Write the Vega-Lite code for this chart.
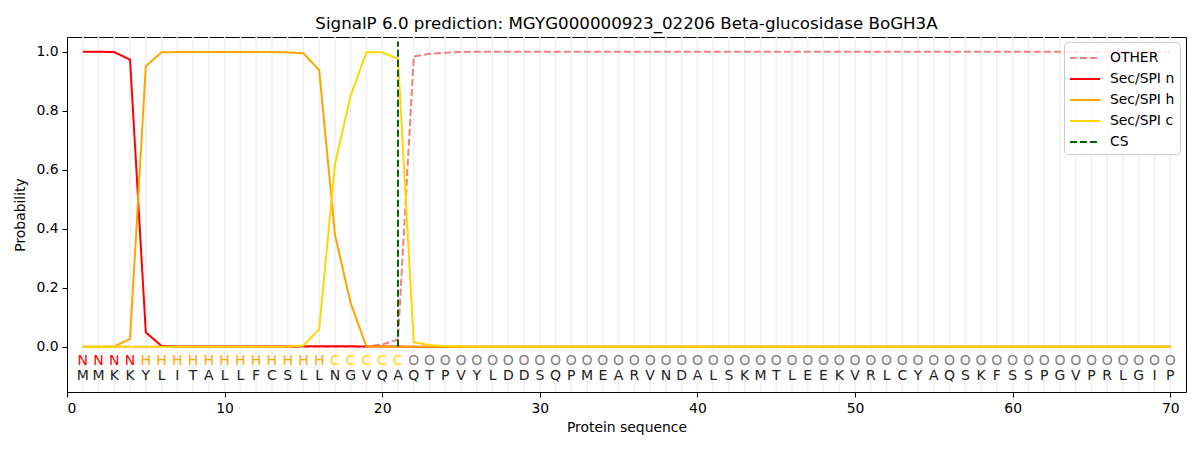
{
  "$schema": "https://vega.github.io/schema/vega-lite/v6.json",
  "autosize": {"type": "none"},
  "padding": {"left": 67, "top": 37, "right": 14, "bottom": 58},
  "width": 1119,
  "height": 355,
  "background": "white",
  "config": {
    "font": "DejaVu Sans",
    "view": {"stroke": "black", "strokeWidth": 1},
    "axis": {
      "labelFont": "DejaVu Sans", "titleFont": "DejaVu Sans",
      "labelFontSize": 13.9, "titleFontSize": 13.9,
      "labelColor": "black", "titleColor": "black",
      "titleFontWeight": "normal",
      "domain": false, "tickColor": "black", "tickSize": 5, "tickWidth": 1,
      "grid": false, "labelPadding": 4
    }
  },
  "title": {
    "text": "SignalP 6.0 prediction: MGYG000000923_02206 Beta-glucosidase BoGH3A",
    "fontSize": 16.7, "fontWeight": "normal", "font": "DejaVu Sans", "color": "black",
    "anchor": "middle", "offset": 4
  },
  "datasets": {
    "seq": [
      {"pos": 1, "aa": "M", "region": "N", "OTHER": 0, "Sec/SPI n": 1, "Sec/SPI h": 0, "Sec/SPI c": 0},
      {"pos": 2, "aa": "M", "region": "N", "OTHER": 0, "Sec/SPI n": 1, "Sec/SPI h": 0, "Sec/SPI c": 0},
      {"pos": 3, "aa": "K", "region": "N", "OTHER": 0, "Sec/SPI n": 0.999, "Sec/SPI h": 0.001, "Sec/SPI c": 0},
      {"pos": 4, "aa": "K", "region": "N", "OTHER": 0, "Sec/SPI n": 0.973, "Sec/SPI h": 0.027, "Sec/SPI c": 0},
      {"pos": 5, "aa": "Y", "region": "H", "OTHER": 0, "Sec/SPI n": 0.049, "Sec/SPI h": 0.951, "Sec/SPI c": 0},
      {"pos": 6, "aa": "L", "region": "H", "OTHER": 0, "Sec/SPI n": 0.003, "Sec/SPI h": 0.998, "Sec/SPI c": 0},
      {"pos": 7, "aa": "I", "region": "H", "OTHER": 0, "Sec/SPI n": 0.001, "Sec/SPI h": 0.999, "Sec/SPI c": 0},
      {"pos": 8, "aa": "T", "region": "H", "OTHER": 0, "Sec/SPI n": 0.001, "Sec/SPI h": 0.999, "Sec/SPI c": 0},
      {"pos": 9, "aa": "A", "region": "H", "OTHER": 0, "Sec/SPI n": 0.001, "Sec/SPI h": 0.999, "Sec/SPI c": 0},
      {"pos": 10, "aa": "L", "region": "H", "OTHER": 0, "Sec/SPI n": 0.001, "Sec/SPI h": 0.999, "Sec/SPI c": 0},
      {"pos": 11, "aa": "L", "region": "H", "OTHER": 0, "Sec/SPI n": 0.001, "Sec/SPI h": 0.999, "Sec/SPI c": 0},
      {"pos": 12, "aa": "F", "region": "H", "OTHER": 0, "Sec/SPI n": 0.001, "Sec/SPI h": 0.999, "Sec/SPI c": 0},
      {"pos": 13, "aa": "C", "region": "H", "OTHER": 0, "Sec/SPI n": 0.001, "Sec/SPI h": 0.999, "Sec/SPI c": 0},
      {"pos": 14, "aa": "S", "region": "H", "OTHER": 0, "Sec/SPI n": 0.001, "Sec/SPI h": 0.998, "Sec/SPI c": 0.001},
      {"pos": 15, "aa": "L", "region": "H", "OTHER": 0, "Sec/SPI n": 0.002, "Sec/SPI h": 0.995, "Sec/SPI c": 0.004},
      {"pos": 16, "aa": "L", "region": "H", "OTHER": 0, "Sec/SPI n": 0.002, "Sec/SPI h": 0.938, "Sec/SPI c": 0.06},
      {"pos": 17, "aa": "N", "region": "C", "OTHER": 0, "Sec/SPI n": 0.002, "Sec/SPI h": 0.38, "Sec/SPI c": 0.618},
      {"pos": 18, "aa": "G", "region": "C", "OTHER": 0, "Sec/SPI n": 0.002, "Sec/SPI h": 0.148, "Sec/SPI c": 0.852},
      {"pos": 19, "aa": "V", "region": "C", "OTHER": 0.001, "Sec/SPI n": 0.001, "Sec/SPI h": 0.001, "Sec/SPI c": 0.998},
      {"pos": 20, "aa": "Q", "region": "C", "OTHER": 0.008, "Sec/SPI n": 0.001, "Sec/SPI h": 0.001, "Sec/SPI c": 0.998},
      {"pos": 21, "aa": "A", "region": "C", "OTHER": 0.025, "Sec/SPI n": 0.001, "Sec/SPI h": 0, "Sec/SPI c": 0.976},
      {"pos": 22, "aa": "Q", "region": "O", "OTHER": 0.984, "Sec/SPI n": 0, "Sec/SPI h": 0, "Sec/SPI c": 0.016},
      {"pos": 23, "aa": "T", "region": "O", "OTHER": 0.993, "Sec/SPI n": 0, "Sec/SPI h": 0, "Sec/SPI c": 0.006},
      {"pos": 24, "aa": "P", "region": "O", "OTHER": 0.997, "Sec/SPI n": 0, "Sec/SPI h": 0, "Sec/SPI c": 0.002},
      {"pos": 25, "aa": "V", "region": "O", "OTHER": 0.999, "Sec/SPI n": 0, "Sec/SPI h": 0, "Sec/SPI c": 0.001},
      {"pos": 26, "aa": "Y", "region": "O", "OTHER": 1, "Sec/SPI n": 0, "Sec/SPI h": 0, "Sec/SPI c": 0},
      {"pos": 27, "aa": "L", "region": "O", "OTHER": 1, "Sec/SPI n": 0, "Sec/SPI h": 0, "Sec/SPI c": 0},
      {"pos": 28, "aa": "D", "region": "O", "OTHER": 1, "Sec/SPI n": 0, "Sec/SPI h": 0, "Sec/SPI c": 0},
      {"pos": 29, "aa": "D", "region": "O", "OTHER": 1, "Sec/SPI n": 0, "Sec/SPI h": 0, "Sec/SPI c": 0},
      {"pos": 30, "aa": "S", "region": "O", "OTHER": 1, "Sec/SPI n": 0, "Sec/SPI h": 0, "Sec/SPI c": 0},
      {"pos": 31, "aa": "Q", "region": "O", "OTHER": 1, "Sec/SPI n": 0, "Sec/SPI h": 0, "Sec/SPI c": 0},
      {"pos": 32, "aa": "P", "region": "O", "OTHER": 1, "Sec/SPI n": 0, "Sec/SPI h": 0, "Sec/SPI c": 0},
      {"pos": 33, "aa": "M", "region": "O", "OTHER": 1, "Sec/SPI n": 0, "Sec/SPI h": 0, "Sec/SPI c": 0},
      {"pos": 34, "aa": "E", "region": "O", "OTHER": 1, "Sec/SPI n": 0, "Sec/SPI h": 0, "Sec/SPI c": 0},
      {"pos": 35, "aa": "A", "region": "O", "OTHER": 1, "Sec/SPI n": 0, "Sec/SPI h": 0, "Sec/SPI c": 0},
      {"pos": 36, "aa": "R", "region": "O", "OTHER": 1, "Sec/SPI n": 0, "Sec/SPI h": 0, "Sec/SPI c": 0},
      {"pos": 37, "aa": "V", "region": "O", "OTHER": 1, "Sec/SPI n": 0, "Sec/SPI h": 0, "Sec/SPI c": 0},
      {"pos": 38, "aa": "N", "region": "O", "OTHER": 1, "Sec/SPI n": 0, "Sec/SPI h": 0, "Sec/SPI c": 0},
      {"pos": 39, "aa": "D", "region": "O", "OTHER": 1, "Sec/SPI n": 0, "Sec/SPI h": 0, "Sec/SPI c": 0},
      {"pos": 40, "aa": "A", "region": "O", "OTHER": 1, "Sec/SPI n": 0, "Sec/SPI h": 0, "Sec/SPI c": 0},
      {"pos": 41, "aa": "L", "region": "O", "OTHER": 1, "Sec/SPI n": 0, "Sec/SPI h": 0, "Sec/SPI c": 0},
      {"pos": 42, "aa": "S", "region": "O", "OTHER": 1, "Sec/SPI n": 0, "Sec/SPI h": 0, "Sec/SPI c": 0},
      {"pos": 43, "aa": "K", "region": "O", "OTHER": 1, "Sec/SPI n": 0, "Sec/SPI h": 0, "Sec/SPI c": 0},
      {"pos": 44, "aa": "M", "region": "O", "OTHER": 1, "Sec/SPI n": 0, "Sec/SPI h": 0, "Sec/SPI c": 0},
      {"pos": 45, "aa": "T", "region": "O", "OTHER": 1, "Sec/SPI n": 0, "Sec/SPI h": 0, "Sec/SPI c": 0},
      {"pos": 46, "aa": "L", "region": "O", "OTHER": 1, "Sec/SPI n": 0, "Sec/SPI h": 0, "Sec/SPI c": 0},
      {"pos": 47, "aa": "E", "region": "O", "OTHER": 1, "Sec/SPI n": 0, "Sec/SPI h": 0, "Sec/SPI c": 0},
      {"pos": 48, "aa": "E", "region": "O", "OTHER": 1, "Sec/SPI n": 0, "Sec/SPI h": 0, "Sec/SPI c": 0},
      {"pos": 49, "aa": "K", "region": "O", "OTHER": 1, "Sec/SPI n": 0, "Sec/SPI h": 0, "Sec/SPI c": 0},
      {"pos": 50, "aa": "V", "region": "O", "OTHER": 1, "Sec/SPI n": 0, "Sec/SPI h": 0, "Sec/SPI c": 0},
      {"pos": 51, "aa": "R", "region": "O", "OTHER": 1, "Sec/SPI n": 0, "Sec/SPI h": 0, "Sec/SPI c": 0},
      {"pos": 52, "aa": "L", "region": "O", "OTHER": 1, "Sec/SPI n": 0, "Sec/SPI h": 0, "Sec/SPI c": 0},
      {"pos": 53, "aa": "C", "region": "O", "OTHER": 1, "Sec/SPI n": 0, "Sec/SPI h": 0, "Sec/SPI c": 0},
      {"pos": 54, "aa": "Y", "region": "O", "OTHER": 1, "Sec/SPI n": 0, "Sec/SPI h": 0, "Sec/SPI c": 0},
      {"pos": 55, "aa": "A", "region": "O", "OTHER": 1, "Sec/SPI n": 0, "Sec/SPI h": 0, "Sec/SPI c": 0},
      {"pos": 56, "aa": "Q", "region": "O", "OTHER": 1, "Sec/SPI n": 0, "Sec/SPI h": 0, "Sec/SPI c": 0},
      {"pos": 57, "aa": "S", "region": "O", "OTHER": 1, "Sec/SPI n": 0, "Sec/SPI h": 0, "Sec/SPI c": 0},
      {"pos": 58, "aa": "K", "region": "O", "OTHER": 1, "Sec/SPI n": 0, "Sec/SPI h": 0, "Sec/SPI c": 0},
      {"pos": 59, "aa": "F", "region": "O", "OTHER": 1, "Sec/SPI n": 0, "Sec/SPI h": 0, "Sec/SPI c": 0},
      {"pos": 60, "aa": "S", "region": "O", "OTHER": 1, "Sec/SPI n": 0, "Sec/SPI h": 0, "Sec/SPI c": 0},
      {"pos": 61, "aa": "S", "region": "O", "OTHER": 1, "Sec/SPI n": 0, "Sec/SPI h": 0, "Sec/SPI c": 0},
      {"pos": 62, "aa": "P", "region": "O", "OTHER": 1, "Sec/SPI n": 0, "Sec/SPI h": 0, "Sec/SPI c": 0},
      {"pos": 63, "aa": "G", "region": "O", "OTHER": 1, "Sec/SPI n": 0, "Sec/SPI h": 0, "Sec/SPI c": 0},
      {"pos": 64, "aa": "V", "region": "O", "OTHER": 1, "Sec/SPI n": 0, "Sec/SPI h": 0, "Sec/SPI c": 0},
      {"pos": 65, "aa": "P", "region": "O", "OTHER": 1, "Sec/SPI n": 0, "Sec/SPI h": 0, "Sec/SPI c": 0},
      {"pos": 66, "aa": "R", "region": "O", "OTHER": 1, "Sec/SPI n": 0, "Sec/SPI h": 0, "Sec/SPI c": 0},
      {"pos": 67, "aa": "L", "region": "O", "OTHER": 1, "Sec/SPI n": 0, "Sec/SPI h": 0, "Sec/SPI c": 0},
      {"pos": 68, "aa": "G", "region": "O", "OTHER": 1, "Sec/SPI n": 0, "Sec/SPI h": 0, "Sec/SPI c": 0},
      {"pos": 69, "aa": "I", "region": "O", "OTHER": 1, "Sec/SPI n": 0, "Sec/SPI h": 0, "Sec/SPI c": 0},
      {"pos": 70, "aa": "P", "region": "O", "OTHER": 1, "Sec/SPI n": 0, "Sec/SPI h": 0, "Sec/SPI c": 0}
    ],
    "cs": [
      {"pos": 21, "series": "CS", "p0": 0, "p1": 1.035}
    ]
  },
  "encoding": {
    "x": {
      "field": "pos", "type": "quantitative",
      "scale": {"domain": [0, 71], "nice": false, "zero": false},
      "axis": {"values": [0, 10, 20, 30, 40, 50, 60, 70], "title": "Protein sequence", "titlePadding": 6, "format": "d"}
    }
  },
  "layer": [
    {
      "data": {"name": "seq"},
      "mark": {"type": "rule", "color": "#f0f0f0", "strokeWidth": 1.5},
      "encoding": {
        "y": {"datum": -0.153, "type": "quantitative"},
        "y2": {"datum": 1.05}
      }
    },
    {
      "layer": [
        {
          "data": {"name": "seq"},
          "transform": [
            {"fold": ["OTHER", "Sec/SPI n", "Sec/SPI h", "Sec/SPI c"], "as": ["series", "p"]}
          ],
          "mark": {"type": "line", "strokeWidth": 2},
          "encoding": {
            "y": {
              "field": "p", "type": "quantitative",
              "scale": {"domain": [-0.153, 1.05], "nice": false, "zero": false},
              "axis": {"values": [0, 0.2, 0.4, 0.6, 0.8, 1.0], "format": ".1f", "title": "Probability", "titlePadding": 8}
            },
            "color": {"field": "series", "type": "nominal"},
            "strokeDash": {"field": "series", "type": "nominal"}
          }
        },
        {
          "data": {"name": "cs"},
          "mark": {"type": "rule", "strokeWidth": 2},
          "encoding": {
            "y": {"field": "p0", "type": "quantitative"},
            "y2": {"field": "p1"},
            "color": {"field": "series", "type": "nominal"},
            "strokeDash": {"field": "series", "type": "nominal"}
          }
        }
      ],
      "encoding": {
        "color": {
          "field": "series", "type": "nominal",
          "scale": {
            "domain": ["OTHER", "Sec/SPI n", "Sec/SPI h", "Sec/SPI c", "CS"],
            "range": ["#F08080", "#FF0000", "#FFA500", "#FFD700", "#006400"]
          },
          "legend": {
            "title": null, "orient": "none", "legendX": 997, "legendY": 5,
            "symbolType": "M-1.5,0L1.5,0", "symbolSize": 400, "symbolStrokeWidth": 2,
            "symbolOffset": 5,
            "labelFontSize": 13.9, "labelFont": "DejaVu Sans", "labelColor": "black",
            "labelOffset": 14, "rowPadding": 3,
            "fillColor": "rgba(255,255,255,0.8)", "strokeColor": "#cccccc",
            "cornerRadius": 4, "padding": 5
          }
        },
        "strokeDash": {
          "field": "series", "type": "nominal",
          "scale": {
            "domain": ["OTHER", "Sec/SPI n", "Sec/SPI h", "Sec/SPI c", "CS"],
            "range": [[7, 3], [1, 0], [1, 0], [1, 0], [7, 3]]
          },
          "legend": {
            "title": null, "orient": "none", "legendX": 997, "legendY": 5,
            "symbolType": "M-1.5,0L1.5,0", "symbolSize": 400, "symbolStrokeWidth": 2,
            "symbolOffset": 5,
            "labelFontSize": 13.9, "labelFont": "DejaVu Sans", "labelColor": "black",
            "labelOffset": 14, "rowPadding": 3,
            "fillColor": "rgba(255,255,255,0.8)", "strokeColor": "#cccccc",
            "cornerRadius": 4, "padding": 5
          }
        }
      }
    },
    {
      "data": {"name": "seq"},
      "mark": {"type": "text", "fontSize": 14, "font": "DejaVu Sans", "baseline": "middle", "align": "center"},
      "encoding": {
        "y": {"datum": -0.047, "type": "quantitative"},
        "text": {"field": "region"},
        "color": {
          "field": "region", "type": "nominal",
          "scale": {"domain": ["N", "H", "C", "O"], "range": ["#FF0000", "#FFA500", "#FFD700", "#808080"]},
          "legend": null
        }
      }
    },
    {
      "data": {"name": "seq"},
      "mark": {"type": "text", "fontSize": 14, "font": "DejaVu Sans", "baseline": "middle", "align": "center", "color": "#222222"},
      "encoding": {
        "y": {"datum": -0.098, "type": "quantitative"},
        "text": {"field": "aa"}
      }
    }
  ],
  "resolve": {"scale": {"color": "independent", "strokeDash": "independent"}}
}
